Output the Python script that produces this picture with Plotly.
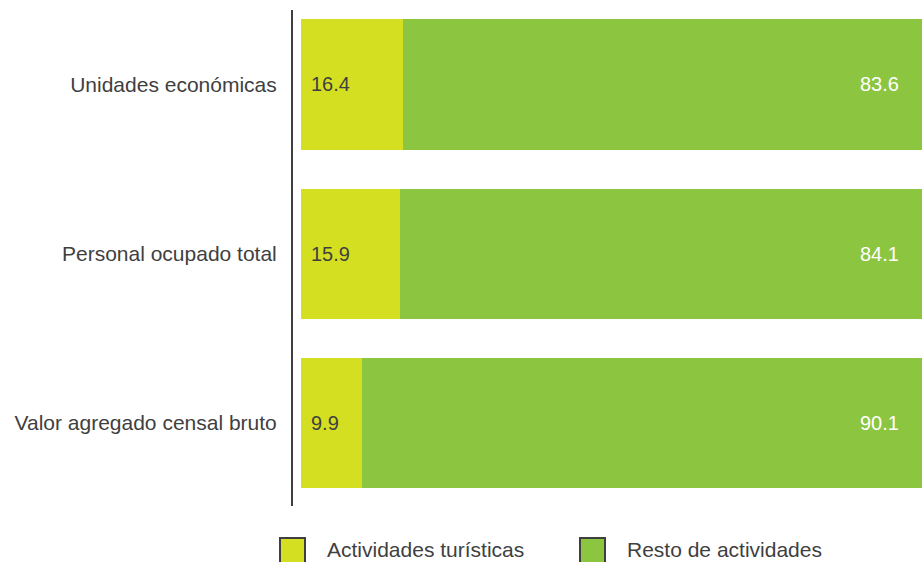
import plotly.graph_objects as go

categories = ["Unidades económicas", "Personal ocupado total", "Valor agregado censal bruto"]
series_names = ["Actividades turísticas", "Resto de actividades"]
turisticas = [16.4, 15.9, 9.9]
resto = [83.6, 84.1, 90.1]

colors = ["#D5DF22", "#8CC540"]
text_colors = ["#3F3F3F", "#FFFFFF"]
FONT = "Liberation Sans, Arial, sans-serif"

W, H = 922, 562
L, T, B = 293, 10, 56
PW, PH = W - L, H - T - B
BOTTOM = T + PH  # page y of paper y=0


def py(p):
    return (BOTTOM - p) / PH


def px(p):
    return (p - L) / PW


fig = go.Figure()
for name, vals, col in zip(series_names, [turisticas, resto], colors):
    fig.add_trace(go.Bar(
        y=categories, x=vals, name=name, orientation="h",
        marker=dict(color=col, line=dict(width=0)),
        width=0.77, showlegend=False, hoverinfo="x+y",
    ))

annotations = []
for cat, v in zip(categories, turisticas):
    annotations.append(dict(x=0, y=cat, xref="x", yref="y", text=f"{v:.1f}",
                            showarrow=False, xanchor="left", xshift=8,
                            font=dict(family=FONT, size=20, color=text_colors[0])))
for cat, a, b in zip(categories, turisticas, resto):
    annotations.append(dict(x=a + b, y=cat, xref="x", yref="y", text=f"{b:.1f}",
                            showarrow=False, xanchor="right", xshift=-21,
                            font=dict(family=FONT, size=20, color=text_colors[1])))

# legend drawn as swatches + labels
shapes = []
leg_x = [280, 580]
for i, (name, col) in enumerate(zip(series_names, colors)):
    x0 = leg_x[i]
    shapes.append(dict(type="rect", xref="paper", yref="paper",
                       x0=px(x0), x1=px(x0 + 25),
                       y0=py(563), y1=py(538),
                       fillcolor=col, line=dict(color="#3F3F3F", width=2)))
    annotations.append(dict(x=px(x0 + 45), y=py(549),
                            xref="paper", yref="paper", text=name, showarrow=False,
                            xanchor="left", yanchor="middle",
                            font=dict(family=FONT, size=21, color="#3F3F3F")))

fig.update_layout(
    barmode="stack",
    width=W, height=H,
    margin=dict(l=L, r=0, t=T, b=B, pad=0),
    paper_bgcolor="white", plot_bgcolor="white",
    font=dict(family=FONT, size=21, color="#3F3F3F"),
    xaxis=dict(range=[-1.29, 100], visible=False, fixedrange=True),
    yaxis=dict(range=[2.49, -0.44], showline=True, linecolor="#3F3F3F", linewidth=2,
               showgrid=False, zeroline=False, ticks="", ticklabelstandoff=10,
               tickfont=dict(family=FONT, size=21, color="#3F3F3F")),
    annotations=annotations,
    shapes=shapes,
    showlegend=False,
)

fig.write_html("out.html", config={"responsive": False, "displayModeBar": False},
               post_script="document.body.style.margin='0';document.body.style.overflow='hidden';")
